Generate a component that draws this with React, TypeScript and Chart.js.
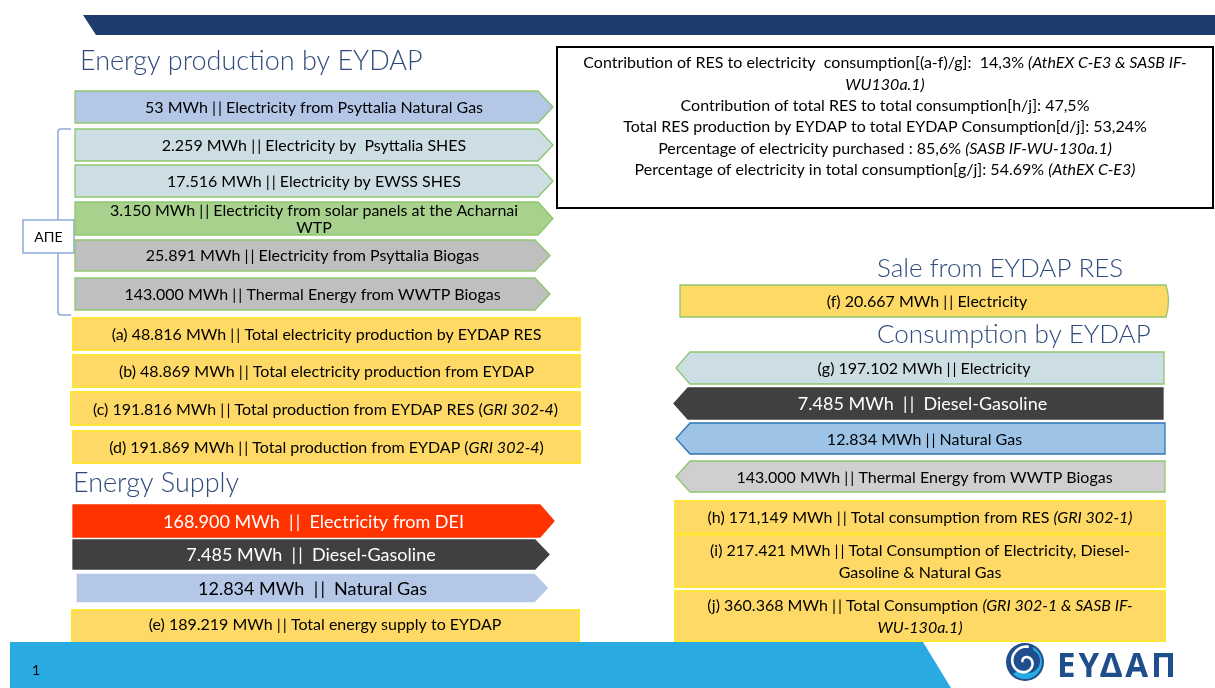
import { useEffect, useRef } from "react";
import { Chart, registerables } from "chart.js";

Chart.register(...registerables);

// ---------------- DATA ----------------
const productionValues = ["53", "2.259", "17.516", "3.150", "25.891", "143.000"];
const productionLabels = [
  "Electricity from Psyttalia Natural Gas",
  "Electricity by  Psyttalia SHES",
  "Electricity by EWSS SHES",
  "Electricity from solar panels at the Acharnai WTP",
  "Electricity from Psyttalia Biogas",
  "Thermal Energy from WWTP Biogas",
];
const productionTotalKeys = ["(a)", "(b)", "(c)", "(d)"];
const productionTotalValues = ["48.816", "48.869", "191.816", "191.869"];
const productionTotalLabels = [
  "Total electricity production by EYDAP RES",
  "Total electricity production from EYDAP",
  "Total production from EYDAP RES",
  "Total production from EYDAP",
];
const productionTotalRefs = ["", "", "GRI 302-4", "GRI 302-4"];

const supplyValues = ["168.900", "7.485", "12.834"];
const supplyLabels = ["Electricity from DEI", "Diesel-Gasoline", "Natural Gas"];
const supplyTotalKey = "(e)";
const supplyTotalValue = "189.219";
const supplyTotalLabel = "Total energy supply to EYDAP";

const saleKey = "(f)";
const saleValue = "20.667";
const saleLabel = "Electricity";

const consumptionValues = ["197.102", "7.485", "12.834", "143.000"];
const consumptionLabels = ["Electricity", "Diesel-Gasoline", "Natural Gas", "Thermal Energy from WWTP Biogas"];
const consumptionKeys = ["(g)", "", "", ""];
const consumptionTotalKeys = ["(h)", "(i)", "(j)"];
const consumptionTotalValues = ["171,149", "217.421", "360.368"];
const consumptionTotalLabels = [
  "Total consumption from RES",
  "Total Consumption of Electricity, Diesel-Gasoline & Natural Gas",
  "Total Consumption",
];
const consumptionTotalRefs = ["GRI 302-1", "", "GRI 302-1 & SASB IF-WU-130a.1"];

const indicatorLabels = [
  "Contribution of RES to electricity  consumption[(a-f)/g]:  ",
  "Contribution of total RES to total consumption[h/j]: ",
  "Total RES production by EYDAP to total EYDAP Consumption[d/j]: ",
  "Percentage of electricity purchased : ",
  "Percentage of electricity in total consumption[g/j]: ",
];
const indicatorValues = ["14,3%", "47,5%", "53,24%", "85,6%", "54.69%"];
const indicatorRefs = ["AthEX C-E3 & SASB IF-WU130a.1", "", "", "SASB IF-WU-130a.1", "AthEX C-E3"];

const sectionTitles = ["Energy production by EYDAP", "Energy Supply", "Sale from EYDAP RES", "Consumption by EYDAP"];
const groupLabel = "ΑΠΕ";
const pageNumber = "1";
const logoText = "ΕΥΔΑΠ";

// ---------------- LAYOUT & STYLE ----------------
const W = 1215;
const H = 688;
const FONT = 'Lato, "Open Sans", "DejaVu Sans", sans-serif';
const GREEN_EDGE = "#8FC66E";
const YELLOW = "#FFD966";
const YELLOW_EDGE = "#FFE43A";
const TITLE_COLOR = "#2F4B7C";
const BAR = "|\u2009|";
const TXT = 16;
const BIG = 18;

const prodRows = [[91, 123], [129, 161], [165, 197], [202, 235], [240, 271], [278, 310]];
const prodTips = [553, 553, 553, 553, 550, 550];
const prodFills = ["#B4C7E7", "#CCDDE3", "#CCDDE3", "#A9D18E", "#BFBFBF", "#BFBFBF"];
const prodTotalRows = [[318, 350], [355, 387], [392, 425], [431, 463]];
const prodTotalX0 = [73, 73, 71, 73];

const supplyRows = [[505, 537], [540, 569], [573, 603]];
const supplyX0 = [73, 73, 76];
const supplyTips = [554, 549, 549];
const supplyFills = ["#FF3300", "#404040", "#B4C7E7"];
const supplyEdges = ["#FF3300", "#404040", "#FFFFFF"];
const supplyText = ["#FFFFFF", "#FFFFFF", "#000000"];

const consRows = [[352, 384], [388, 419], [423, 454], [461, 492]];
const consTips = [676, 674, 676, 676];
const consRight = [1164, 1163, 1165, 1165];
const consFills = ["#CCDDE3", "#404040", "#9DC3E6", "#D0CECE"];
const consEdges = [GREEN_EDGE, "#404040", "#2E75B6", GREEN_EDGE];
const consText = ["#000000", "#FFFFFF", "#000000", "#000000"];
const consSize = [TXT, BIG, TXT, TXT];
const consTotalRows = [[501, 533], [535, 587], [591, 641]];

type Seg = { t: string; i?: boolean };

function setFont(ctx: CanvasRenderingContext2D, size: number, italic?: boolean, weight = 400) {
  ctx.font = `${italic ? "italic " : ""}${weight} ${size}px ${FONT}`;
}

function wrap(ctx: CanvasRenderingContext2D, segs: Seg[], maxW: number, size: number): Seg[][] {
  const toks: Seg[] = [];
  segs.forEach((s) => s.t.split(/(?<=[ -])/).forEach((p) => toks.push({ t: p, i: s.i })));
  const lines: Seg[][] = [[]];
  let w = 0;
  for (const tk of toks) {
    setFont(ctx, size, tk.i);
    const tw = ctx.measureText(tk.t).width;
    const trimmed = ctx.measureText(tk.t.trimEnd()).width;
    if (w + trimmed > maxW && lines[lines.length - 1].length) {
      lines.push([]);
      w = 0;
    }
    lines[lines.length - 1].push({ ...tk });
    w += tw;
  }
  lines.forEach((l) => {
    const last = l[l.length - 1];
    if (last) last.t = last.t.trimEnd();
  });
  return lines;
}

function drawLines(
  ctx: CanvasRenderingContext2D,
  lines: Seg[][],
  cx: number,
  cy: number,
  lineH: number,
  size: number,
  color: string,
  fromTop = false
) {
  const n = lines.length;
  ctx.textBaseline = "middle";
  ctx.textAlign = "left";
  ctx.fillStyle = color;
  lines.forEach((l, k) => {
    const y = fromTop ? cy + k * lineH : cy + (k - (n - 1) / 2) * lineH;
    let total = 0;
    l.forEach((s) => {
      setFont(ctx, size, s.i);
      total += ctx.measureText(s.t).width;
    });
    let x = cx - total / 2;
    l.forEach((s) => {
      setFont(ctx, size, s.i);
      ctx.fillText(s.t, x, y);
      x += ctx.measureText(s.t).width;
    });
  });
}

function shape(ctx: CanvasRenderingContext2D, pts: number[][], fill: string, edge: string, lw = 1.3) {
  ctx.beginPath();
  pts.forEach(([x, y], k) => (k ? ctx.lineTo(x, y) : ctx.moveTo(x, y)));
  ctx.closePath();
  ctx.fillStyle = fill;
  ctx.fill();
  if (edge) {
    ctx.strokeStyle = edge;
    ctx.lineWidth = lw;
    ctx.stroke();
  }
}

function refSegs(ref: string, italicParens: boolean): Seg[] {
  if (!ref) return [];
  return italicParens ? [{ t: " " }, { t: `(${ref})`, i: true }] : [{ t: " (" }, { t: ref, i: true }, { t: ")" }];
}

const infographic = {
  id: "infographic",
  afterDraw(chart: any) {
    const ctx: CanvasRenderingContext2D = chart.ctx;
    const sx = chart.scales.x;
    const sy = chart.scales.y;
    const X = (v: number) => sx.getPixelForValue(v);
    const Y = (v: number) => sy.getPixelForValue(v);
    const P = (pts: number[][]) => pts.map(([a, b]) => [X(a), Y(b)]);
    const rightArrow = (x0: number, tip: number, y0: number, y1: number, d = 15) =>
      P([[x0, y0], [tip - d, y0], [tip, (y0 + y1) / 2], [tip - d, y1], [x0, y1]]);
    const leftArrow = (tip: number, x1: number, y0: number, y1: number, d = 15) =>
      P([[tip + d, y0], [x1, y0], [x1, y1], [tip + d, y1], [tip, (y0 + y1) / 2]]);
    const rect = (x0: number, x1: number, y0: number, y1: number) => P([[x0, y0], [x1, y0], [x1, y1], [x0, y1]]);

    ctx.save();
    ctx.fillStyle = "#FFFFFF";
    ctx.fillRect(0, 0, W, H);

    // top banner
    shape(ctx, P([[83, 15], [W, 15], [W, 35], [96, 35]]), "#1F3C6E", "");

    // titles
    const titleAt = (t: string, x: number, base: number, size: number) => {
      ctx.textBaseline = "alphabetic";
      ctx.textAlign = "left";
      ctx.fillStyle = TITLE_COLOR;
      setFont(ctx, size, false, 300);
      ctx.fillText(t, X(x), Y(base));
    };
    titleAt(sectionTitles[0], 80, 70, 27);
    titleAt(sectionTitles[1], 73, 492, 27);
    titleAt(sectionTitles[2], 877, 277, 26);
    titleAt(sectionTitles[3], 877, 343, 26);

    // bracket for RES group
    ctx.beginPath();
    ctx.moveTo(X(71), Y(129));
    ctx.lineTo(X(61), Y(129));
    ctx.quadraticCurveTo(X(58), Y(129), X(58), Y(132));
    ctx.lineTo(X(58), Y(312));
    ctx.quadraticCurveTo(X(58), Y(315), X(61), Y(315));
    ctx.lineTo(X(71), Y(315));
    ctx.strokeStyle = "#8FAADC";
    ctx.lineWidth = 1.5;
    ctx.stroke();
    shape(ctx, rect(23, 74, 220, 253), "#FFFFFF", "#8FAADC", 1.5);
    drawLines(ctx, [[{ t: groupLabel }]], X(48.5), Y(237), 16, 14, "#000000");

    // production arrows
    productionValues.forEach((v, k) => {
      const [y0, y1] = prodRows[k];
      shape(ctx, rightArrow(75, prodTips[k], y0, y1), prodFills[k], GREEN_EDGE);
      const lines = wrap(ctx, [{ t: `${v} MWh ${BAR} ${productionLabels[k]}` }], 435, TXT);
      drawLines(ctx, lines, X((75 + prodTips[k]) / 2), Y((y0 + y1) / 2 + 0.5), 17, TXT, "#000000");
    });

    // production totals
    productionTotalValues.forEach((v, k) => {
      const [y0, y1] = prodTotalRows[k];
      shape(ctx, rect(prodTotalX0[k], 580, y0, y1), YELLOW, YELLOW_EDGE, 2);
      const segs: Seg[] = [
        { t: `${productionTotalKeys[k]} ${v} MWh ${BAR} ${productionTotalLabels[k]}` },
        ...refSegs(productionTotalRefs[k], false),
      ];
      drawLines(ctx, wrap(ctx, segs, 500, TXT), X((prodTotalX0[k] + 580) / 2), Y((y0 + y1) / 2 + 1), 17, TXT, "#000000");
    });

    // supply
    supplyValues.forEach((v, k) => {
      const [y0, y1] = supplyRows[k];
      shape(ctx, rightArrow(supplyX0[k], supplyTips[k], y0, y1, 14), supplyFills[k], supplyEdges[k]);
      drawLines(ctx, [[{ t: `${v} MWh  ${BAR}  ${supplyLabels[k]}` }]], X((supplyX0[k] + supplyTips[k]) / 2), Y((y0 + y1) / 2 + 1), 17, BIG, supplyText[k]);
    });
    shape(ctx, rect(72, 579, 610, 645), YELLOW, YELLOW_EDGE, 2);
    drawLines(ctx, [[{ t: `${supplyTotalKey} ${supplyTotalValue} MWh ${BAR} ${supplyTotalLabel}` }]], X(325), Y(625), 17, TXT, "#000000");

    // info box
    shape(ctx, rect(557, 1213, 47, 208), "#FFFFFF", "#000000", 2);
    let infoLines: Seg[][] = [];
    indicatorLabels.forEach((lab, k) => {
      const segs: Seg[] = [{ t: `${lab}${indicatorValues[k]}` }, ...refSegs(indicatorRefs[k], true)];
      infoLines = infoLines.concat(wrap(ctx, segs, 630, TXT));
    });
    drawLines(ctx, infoLines, X(885), Y(63), 21.4, TXT, "#000000", true);

    // sale
    ctx.beginPath();
    ctx.moveTo(X(680), Y(285));
    ctx.lineTo(X(1166), Y(285));
    ctx.quadraticCurveTo(X(1171), Y(301), X(1166), Y(317));
    ctx.lineTo(X(680), Y(317));
    ctx.closePath();
    ctx.fillStyle = YELLOW;
    ctx.fill();
    ctx.strokeStyle = GREEN_EDGE;
    ctx.lineWidth = 1.3;
    ctx.stroke();
    drawLines(ctx, [[{ t: `${saleKey} ${saleValue} MWh ${BAR} ${saleLabel}` }]], X(927), Y(301.5), 17, TXT, "#000000");

    // consumption
    consumptionValues.forEach((v, k) => {
      const [y0, y1] = consRows[k];
      shape(ctx, leftArrow(consTips[k], consRight[k], y0, y1, 14), consFills[k], consEdges[k]);
      const key = consumptionKeys[k] ? `${consumptionKeys[k]} ` : "";
      const sep = consSize[k] > TXT ? `  ${BAR}  ` : ` ${BAR} `;
      drawLines(ctx, [[{ t: `${key}${v} MWh${sep}${consumptionLabels[k]}` }]], X((consTips[k] + consRight[k]) / 2 + 4), Y((y0 + y1) / 2 + 1), 17, consSize[k], consText[k]);
    });

    consumptionTotalValues.forEach((v, k) => {
      const [y0, y1] = consTotalRows[k];
      shape(ctx, rect(675, 1165, y0, y1), YELLOW, YELLOW_EDGE, 2);
      const segs: Seg[] = [
        { t: `${consumptionTotalKeys[k]} ${v} MWh ${BAR} ${consumptionTotalLabels[k]}` },
        ...refSegs(consumptionTotalRefs[k], true),
      ];
      drawLines(ctx, wrap(ctx, segs, 445, TXT), X(920), Y((y0 + y1) / 2 + 1), 21.5, TXT, "#000000");
    });

    // footer
    shape(ctx, P([[10, 642], [923, 642], [951, H], [10, H]]), "#29ABE2", "");
    drawLines(ctx, [[{ t: pageNumber }]], X(36), Y(670), 16, 14, "#000000");

    // logo
    const cx = X(1025);
    const cy = Y(662);
    ctx.beginPath();
    ctx.arc(cx, cy, 19, 0, Math.PI * 2);
    ctx.fillStyle = "#1F4E8C";
    ctx.fill();
    ctx.beginPath();
    ctx.arc(cx, cy, 17, -0.35 * Math.PI, 0.75 * Math.PI);
    ctx.arc(cx + 3, cy - 1, 12, 0.75 * Math.PI, -0.35 * Math.PI, true);
    ctx.closePath();
    ctx.fillStyle = "#29ABE2";
    ctx.fill();
    ctx.beginPath();
    for (let t = 0; t <= 2.6 * Math.PI; t += 0.1) {
      const r = 2 + t * 1.7;
      const px = cx + r * Math.cos(t + Math.PI);
      const py = cy + r * Math.sin(t + Math.PI);
      if (t === 0) ctx.moveTo(px, py);
      else ctx.lineTo(px, py);
    }
    ctx.strokeStyle = "#FFFFFF";
    ctx.lineWidth = 2.6;
    ctx.stroke();

    ctx.textBaseline = "alphabetic";
    ctx.textAlign = "left";
    ctx.fillStyle = "#1F4E8C";
    ctx.font = `700 34px "Noto Sans", "DejaVu Sans", sans-serif`;
    (ctx as any).letterSpacing = "3px";
    ctx.fillText(logoText, X(1057), Y(677), 122);
    (ctx as any).letterSpacing = "0px";
    ctx.restore();
  },
};

export default function App() {
  const ref = useRef<HTMLCanvasElement | null>(null);
  useEffect(() => {
    document.body.style.margin = "0";
    const canvas = ref.current;
    if (!canvas) return;
    const chart = new Chart(canvas, {
      type: "scatter",
      data: { datasets: [] },
      options: {
        responsive: false,
        animation: false,
        devicePixelRatio: 1,
        layout: { padding: 0 },
        scales: {
          x: { type: "linear", min: 0, max: W, display: false },
          y: { type: "linear", min: 0, max: H, reverse: true, display: false },
        },
        plugins: { legend: { display: false }, tooltip: { enabled: false } },
      },
      plugins: [infographic],
    });
    return () => chart.destroy();
  }, []);
  return (
    <div style={{ width: W, height: H, overflow: "hidden" }}>
      <canvas ref={ref} width={W} height={H} style={{ display: "block" }} />
    </div>
  );
}
